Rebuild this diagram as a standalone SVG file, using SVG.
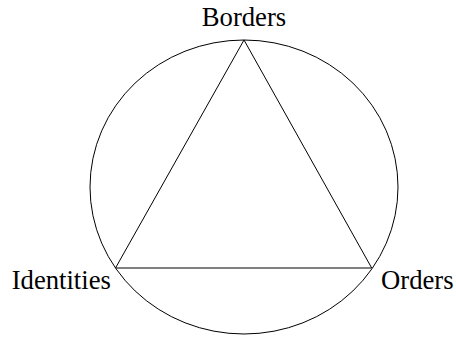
<svg xmlns="http://www.w3.org/2000/svg" width="456" height="338" viewBox="0 0 456 338">
<style>
.s{fill:none;stroke:#000;stroke-width:1}
text{font-family:'Liberation Serif',serif;font-size:26.67px;fill:#000}
</style>
<rect width="456" height="338" fill="#fff"/>
<g id="connectors">
<ellipse class="s" cx="244" cy="187" rx="154" ry="147"/>
<polygon class="s" points="244,40 115.5,268 371.7,268"/>
</g>
<g id="borders"><text x="244" y="26" text-anchor="middle" font-family="Liberation Serif, serif">Borders</text></g>
<g id="identities"><text x="11.7" y="289" font-family="Liberation Serif, serif">Identities</text></g>
<g id="orders"><text x="381" y="289" font-family="Liberation Serif, serif">Orders</text></g>
</svg>
